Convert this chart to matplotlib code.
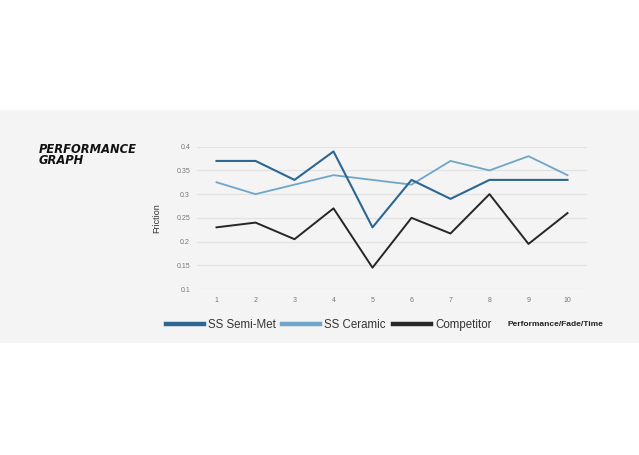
import matplotlib
matplotlib.use("Agg")
import matplotlib.pyplot as plt
from matplotlib.patches import Rectangle
from matplotlib.lines import Line2D

# ---- data ----
x_points = [1, 2, 3, 4, 5, 6, 7, 8, 9, 10]
semi_met = [0.37, 0.37, 0.33, 0.39, 0.23, 0.33, 0.29, 0.33, 0.33, 0.33]
ceramic = [0.325, 0.30, 0.32, 0.34, 0.33, 0.32, 0.37, 0.35, 0.38, 0.34]
competitor = [0.23, 0.24, 0.205, 0.27, 0.145, 0.25, 0.217, 0.30, 0.195, 0.26]
y_ticks = [0.1, 0.15, 0.2, 0.25, 0.3, 0.35, 0.4]
y_tick_labels = ["0.1", "0.15", "0.2", "0.25", "0.3", "0.35", "0.4"]
series_names = ["SS Semi-Met", "SS Ceramic", "Competitor"]
title_text = "PERFORMANCE\nGRAPH"
y_label = "Friction"
x_label = "Performance/Fade/Time"

C_SEMI = "#2b6792"
C_CER = "#6fa6c8"
C_COMP = "#262626"
BG = "#f4f4f4"

W, H = 639, 455
fig = plt.figure(figsize=(W / 100, H / 100), dpi=100)
fig.patch.set_facecolor("white")
fig.patches.append(Rectangle((0, 1 - 343 / H), 1, (343 - 110) / H,
                             transform=fig.transFigure, facecolor=BG,
                             edgecolor="none", zorder=-10))

narrow = ["Liberation Sans", "DejaVu Sans"]

ax = fig.add_axes([197 / W, 1 - 289 / H, 390 / W, (289 - 146.7) / H])
ax.set_facecolor("none")
ax.set_xlim(0.5, 10.5)
ax.set_ylim(0.1, 0.4)
for s in ax.spines.values():
    s.set_visible(False)
ax.set_yticks(y_ticks)
ax.set_yticklabels(y_tick_labels)
ax.set_xticks(x_points)
ax.set_xticklabels([str(v) for v in x_points])
ax.tick_params(length=0, labelsize=5, labelcolor="#777777", pad=5)
ax.tick_params(axis="x", pad=6)
for lab in ax.get_xticklabels() + ax.get_yticklabels():
    lab.set_family(narrow)
ax.grid(axis="y", color="#e3e3e3", lw=0.9)
ax.set_axisbelow(True)

ax.plot(x_points, ceramic, color=C_CER, lw=1.3, clip_on=False, zorder=3)
ax.plot(x_points, semi_met, color=C_SEMI, lw=1.5, clip_on=False, zorder=4)
ax.plot(x_points, competitor, color=C_COMP, lw=1.4, clip_on=False, zorder=3)

fig.text(157 / W, 1 - 218 / H, y_label, rotation=90, ha="center", va="center",
         fontsize=6.5, color="#333333", family=narrow)

fig.text(39 / W, 1 - 143 / H, title_text, ha="left", va="top",
         fontsize=8.3, fontweight="heavy", style="italic", color="#111111",
         linespacing=0.85)

colors = [C_SEMI, C_CER, C_COMP]
starts = [166, 282, 393]
for name, col, x0 in zip(series_names, colors, starts):
    lg = fig.legend([Line2D([], [], color=col, lw=3.2)], [name],
                    loc="center left", bbox_to_anchor=(x0 / W, 1 - 325 / H),
                    frameon=False, handlelength=3.3, handletextpad=0.35,
                    borderpad=0, borderaxespad=0,
                    prop={"family": narrow, "size": 8.3})
    for t in lg.get_texts():
        t.set_color("#333333")

fig.text(508 / W, 1 - 325 / H, x_label, ha="left", va="center",
         fontsize=6, fontweight="bold", color="#222222", family=narrow)

fig.savefig("out.png", dpi=100, facecolor=fig.get_facecolor())
